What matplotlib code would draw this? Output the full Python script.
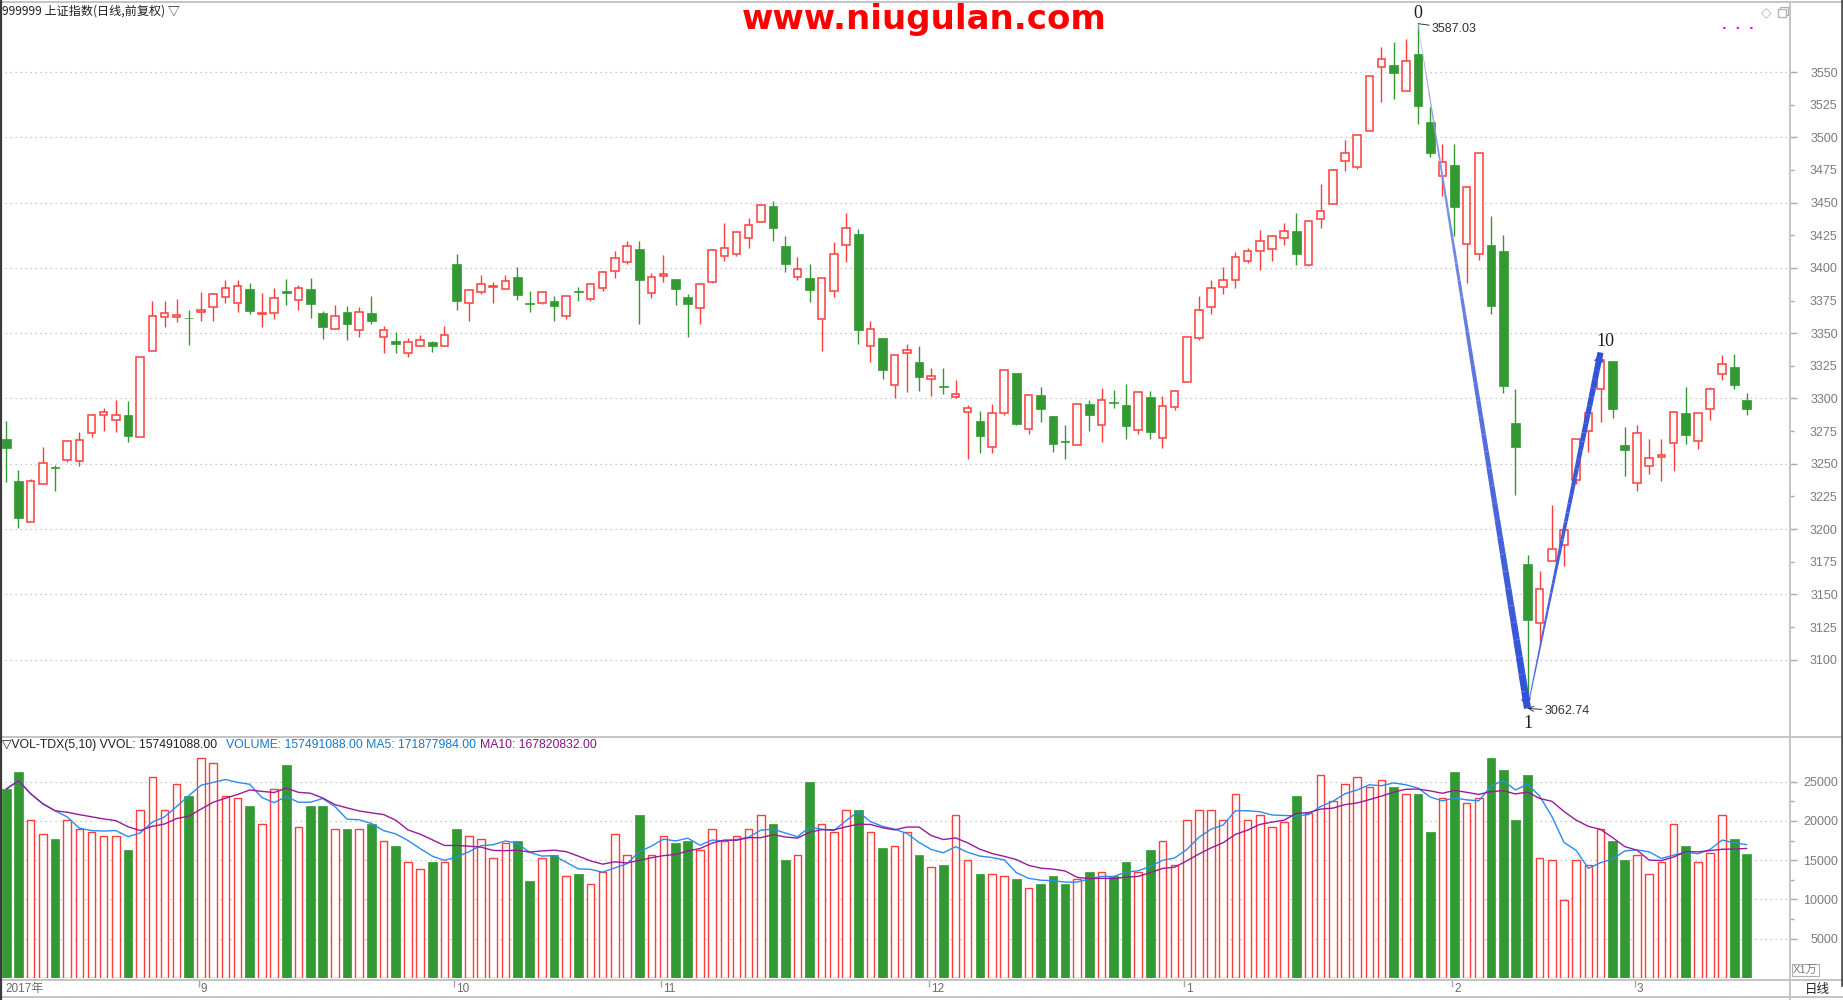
import matplotlib
matplotlib.use('Agg')
import matplotlib.pyplot as plt
import numpy as np
import pandas as pd
from matplotlib.collections import LineCollection
from matplotlib.lines import Line2D
from matplotlib.patches import Rectangle
from matplotlib.colors import to_rgb
from matplotlib.ticker import FixedLocator, FormatStrFormatter, NullFormatter

# daily candles (index 0 = first bar on the left)
opens = [3269.2, 3237.2, 3205.4, 3234.6, 3247.2, 3253.1, 3252.1, 3273.9, 3287.7, 3283.8,
         3287.7, 3270.8, 3336.2, 3362.3, 3362.3, 3361.8, 3366.2, 3370.0, 3377.7, 3373.1,
         3383.8, 3364.6, 3365.4, 3382.3, 3375.4, 3383.8, 3365.4, 3353.1, 3366.2, 3352.3,
         3365.4, 3346.9, 3343.9, 3335.1, 3340.0, 3343.1, 3340.0, 3403.3, 3373.1, 3381.5,
         3385.4, 3384.1, 3393.1, 3372.8, 3372.8, 3374.6, 3363.1, 3382.6, 3376.2, 3384.6,
         3397.7, 3404.6, 3414.1, 3380.5, 3393.8, 3391.8, 3378.0, 3369.2, 3389.2, 3409.2,
         3410.8, 3423.1, 3435.4, 3447.2, 3416.4, 3393.1, 3392.3, 3360.8, 3382.3, 3417.7,
         3425.6, 3340.0, 3346.4, 3310.0, 3334.6, 3327.7, 3314.6, 3309.5, 3300.8, 3290.0,
         3282.6, 3262.8, 3289.2, 3319.5, 3276.9, 3302.3, 3286.4, 3267.4, 3264.6, 3295.6,
         3280.0, 3297.2, 3294.9, 3276.2, 3301.0, 3270.0, 3293.6, 3312.3, 3346.2, 3370.0,
         3385.4, 3390.8, 3405.4, 3413.1, 3414.6, 3423.1, 3428.5, 3402.1, 3437.7, 3449.2,
         3481.5, 3476.9, 3504.6, 3553.8, 3555.4, 3535.4, 3564.1, 3511.5, 3470.0, 3478.5,
         3418.5, 3410.8, 3417.8, 3413.0, 3281.1, 3172.9, 3128.3, 3175.8, 3187.8, 3237.5,
         3275.4, 3307.1, 3328.6, 3264.4, 3235.3, 3248.2, 3255.5, 3266.3, 3288.7, 3267.8,
         3291.6, 3319.1, 3323.8, 3298.8]
highs = [3282.6, 3244.9, 3238.5, 3262.6, 3248.7, 3267.7, 3274.1, 3287.2, 3292.6, 3298.7,
         3298.0, 3331.5, 3374.9, 3374.9, 3376.4, 3367.9, 3381.8, 3381.0, 3391.0, 3391.0,
         3388.7, 3381.0, 3384.9, 3391.8, 3387.2, 3392.6, 3366.7, 3371.8, 3370.8, 3370.3,
         3378.7, 3355.6, 3351.0, 3346.4, 3348.7, 3344.4, 3355.6, 3410.3, 3383.1, 3394.9,
         3389.5, 3394.9, 3401.0, 3382.6, 3382.6, 3378.7, 3378.5, 3385.6, 3387.7, 3398.0,
         3413.3, 3420.3, 3420.3, 3396.4, 3409.5, 3391.8, 3380.3, 3388.7, 3414.6, 3434.1,
         3428.5, 3438.5, 3448.5, 3451.0, 3424.1, 3408.7, 3403.3, 3392.3, 3419.5, 3441.8,
         3429.5, 3359.5, 3346.4, 3333.1, 3341.8, 3340.3, 3323.3, 3323.3, 3314.1, 3294.9,
         3290.3, 3295.6, 3321.5, 3319.5, 3302.3, 3308.5, 3286.4, 3279.5, 3295.4, 3299.2,
         3308.0, 3306.4, 3311.0, 3304.9, 3305.9, 3301.8, 3306.2, 3347.2, 3378.7, 3391.0,
         3401.0, 3411.8, 3415.6, 3428.7, 3425.4, 3434.1, 3442.3, 3436.2, 3464.1, 3475.4,
         3497.9, 3502.3, 3546.9, 3569.5, 3572.6, 3574.9, 3587.03, 3523.1, 3494.9, 3494.9,
         3462.6, 3487.7, 3439.9, 3425.4, 3307.1, 3180.5, 3167.6, 3218.8, 3199.5, 3268.8,
         3288.7, 3335.2, 3328.6, 3278.3, 3279.5, 3269.1, 3269.1, 3289.3, 3308.6, 3288.7,
         3308.6, 3333.0, 3333.9, 3304.5]
lows = [3235.9, 3200.5, 3205.4, 3234.6, 3229.0, 3251.3, 3248.2, 3270.5, 3275.1, 3274.1,
        3266.7, 3270.8, 3336.2, 3355.1, 3358.2, 3341.3, 3359.0, 3359.7, 3373.1, 3365.9,
        3364.4, 3354.4, 3360.5, 3371.8, 3367.4, 3361.8, 3345.6, 3353.1, 3345.1, 3347.4,
        3357.4, 3335.1, 3335.1, 3332.1, 3340.0, 3335.9, 3340.0, 3367.4, 3359.0, 3380.0,
        3372.8, 3383.8, 3375.1, 3365.9, 3372.1, 3359.7, 3360.5, 3374.9, 3374.4, 3382.1,
        3392.1, 3402.8, 3357.4, 3376.7, 3389.0, 3371.8, 3347.4, 3356.7, 3388.2, 3405.1,
        3409.2, 3415.1, 3435.4, 3420.5, 3396.7, 3390.5, 3373.6, 3336.7, 3377.4, 3404.4,
        3342.1, 3328.2, 3315.1, 3300.5, 3305.1, 3305.9, 3302.1, 3303.6, 3300.0, 3253.6,
        3258.2, 3258.2, 3287.4, 3279.5, 3273.1, 3282.1, 3259.0, 3253.6, 3264.6, 3275.1,
        3266.7, 3292.8, 3269.0, 3272.8, 3269.0, 3262.1, 3291.3, 3312.3, 3344.6, 3364.4,
        3379.8, 3384.4, 3403.9, 3398.5, 3405.4, 3417.2, 3402.1, 3401.3, 3430.5, 3449.2,
        3474.4, 3475.9, 3504.6, 3527.4, 3529.0, 3535.4, 3510.5, 3485.1, 3455.4, 3424.4,
        3388.2, 3406.2, 3364.6, 3304.5, 3225.8, 3062.74, 3113.5, 3175.8, 3171.7, 3234.6,
        3258.7, 3282.1, 3285.2, 3240.3, 3228.9, 3242.5, 3237.2, 3244.1, 3265.3, 3261.5,
        3283.7, 3314.0, 3307.4, 3287.5]
closes = [3262.1, 3208.2, 3237.0, 3250.8, 3246.8, 3267.7, 3268.5, 3287.2, 3290.0, 3287.7,
          3271.3, 3331.5, 3363.1, 3365.4, 3363.8, 3361.3, 3367.7, 3380.0, 3384.6, 3386.2,
          3366.7, 3365.6, 3376.9, 3380.5, 3384.6, 3372.1, 3354.4, 3363.1, 3357.4, 3366.2,
          3359.2, 3352.3, 3341.5, 3343.1, 3344.6, 3340.0, 3348.5, 3374.4, 3383.1, 3387.7,
          3386.4, 3390.3, 3379.0, 3372.3, 3381.5, 3370.5, 3378.5, 3381.3, 3387.7, 3396.9,
          3407.7, 3416.9, 3390.5, 3393.1, 3395.4, 3383.6, 3372.1, 3387.7, 3413.8, 3415.4,
          3427.7, 3433.1, 3448.5, 3430.5, 3402.8, 3399.2, 3382.8, 3392.3, 3410.8, 3430.8,
          3352.1, 3353.1, 3322.1, 3333.1, 3336.9, 3316.7, 3316.9, 3309.0, 3303.1, 3293.1,
          3271.3, 3289.2, 3321.5, 3280.5, 3302.3, 3292.1, 3265.1, 3266.9, 3295.4, 3287.4,
          3299.2, 3296.7, 3278.7, 3304.9, 3274.4, 3294.6, 3305.6, 3347.2, 3367.7, 3384.6,
          3390.8, 3408.5, 3413.1, 3420.8, 3424.6, 3428.5, 3410.5, 3436.2, 3443.8, 3474.6,
          3487.7, 3501.5, 3546.9, 3560.0, 3549.2, 3558.5, 3523.6, 3488.2, 3480.8, 3446.7,
          3461.8, 3487.7, 3370.6, 3309.6, 3262.5, 3130.6, 3154.3, 3184.6, 3199.5, 3268.8,
          3288.7, 3329.8, 3292.2, 3260.2, 3273.2, 3254.2, 3256.8, 3289.3, 3272.3, 3288.7,
          3307.1, 3326.7, 3310.5, 3291.6]
# volume in units of 1万
vols = [24060, 26165, 20150, 18350, 17750, 20150, 18950, 18650, 18050, 18050,
        16240, 21350, 25560, 21350, 24660, 23160, 27970, 27370, 23160, 22860,
        21950, 19550, 24060, 27070, 19250, 21950, 21950, 18950, 18950, 18950,
        19550, 17440, 16840, 14740, 13830, 14740, 14740, 18950, 18050, 17740,
        15340, 17140, 17440, 12330, 15340, 15640, 12930, 13230, 12030, 13530,
        18350, 15640, 20750, 15640, 18050, 17140, 17440, 16240, 18950, 17440,
        18050, 18950, 20750, 19550, 15040, 15640, 24960, 19550, 18650, 21350,
        21350, 18650, 16540, 16840, 18650, 15640, 14140, 14440, 20750, 15040,
        13230, 13230, 12930, 12630, 11430, 12030, 12930, 12030, 12630, 13530,
        13530, 12930, 14740, 13530, 16240, 17440, 14440, 20150, 21350, 21350,
        20150, 23460, 20150, 20750, 19250, 19850, 23160, 21050, 25860, 22560,
        24660, 25560, 24360, 25260, 24360, 23460, 23460, 18650, 22860, 26170,
        22260, 22860, 27970, 26470, 20150, 25860, 15340, 15040, 9920, 15040,
        14440, 18950, 17440, 15040, 15640, 13230, 14740, 19550, 16840, 14740,
        15940, 20750, 17740, 15749.1088]

# header readouts of the volume panel
vvol_last = 157491088.00
ma5_last = 171877984.00
ma10_last = 167820832.00

month_labels = ['2017年', '9', '10', '11', '12', '1', '2', '3']
month_idx = [0, 16, 37, 54, 76, 97, 119, 134]

peak_i, low_i, top_i = 116, 125, 131

price_major = list(range(3100, 3551, 50))
price_minor = list(range(3125, 3526, 50))
vol_major = [5000, 10000, 15000, 20000, 25000]
vol_minor = [7500, 12500, 17500, 22500]

red = '#FF3C3C'
green = '#339933'
grid_c = '#b8b8b8'
frame_c = '#c4c4c4'

o = np.array(opens); h = np.array(highs); l = np.array(lows); c = np.array(closes)
v = np.array(vols, dtype=float)
x = np.arange(len(o))
up = c >= o
lo_b = np.minimum(o, c)
hi_b = np.maximum(o, c)
hgt = np.maximum(hi_b - lo_b, 0.4)

W, H = 1843, 1000
fig = plt.figure(figsize=(W / 100, H / 100), dpi=100)


def fx(px):
    return px / W


def fy(py):
    return 1 - py / H


ax = fig.add_axes([0, fy(737), fx(1790), fy(2) - fy(737)])
axv = fig.add_axes([0, fy(978), fx(1790), fy(740) - fy(978)])
axd = fig.add_axes([0, fy(997), fx(1790), fy(980) - fy(997)])

xlim = (-0.52, 146.57)
for a in (ax, axv, axd):
    a.set_xlim(*xlim)
    a.set_xticks([])
    for s in a.spines.values():
        s.set_visible(False)

# candles
ax.vlines(x[up], hi_b[up], h[up], color=red, lw=1.0, zorder=2)
ax.vlines(x[up], l[up], lo_b[up], color=red, lw=1.0, zorder=2)
ax.vlines(x[~up], l[~up], h[~up], color=green, lw=1.0, zorder=2)
ax.bar(x[up], hgt[up], bottom=lo_b[up], width=0.62, facecolor='white',
       edgecolor=red, lw=1.1, zorder=3)
ax.bar(x[~up], hgt[~up], bottom=lo_b[~up], width=0.72, facecolor=green,
       edgecolor=green, lw=0.5, zorder=3)
ax.set_ylim(3040.8, 3603.6)


def blend(c0, c1, t):
    a0 = np.array(to_rgb(c0)); a1 = np.array(to_rgb(c1))
    return tuple(a0 + (a1 - a0) * t)


def taper_arrow(axis, x0, y0, x1, y1, w0, w1, c0, c1, nseg=40, head=16):
    xs = np.linspace(x0, x1, nseg + 1)
    ys = np.linspace(y0, y1, nseg + 1)
    segs = [[(xs[k], ys[k]), (xs[k + 1], ys[k + 1])] for k in range(nseg)]
    lws = np.linspace(w0, w1, nseg)
    cols = [blend(c0, c1, t) for t in np.linspace(0, 1, nseg) ** 0.6]
    axis.add_collection(LineCollection(segs, linewidths=lws, colors=cols,
                                       capstyle='butt', zorder=5))
    axis.annotate('', xy=(x1, y1), xytext=(xs[-5], ys[-5]),
                  arrowprops=dict(arrowstyle='-|>', color=c1, lw=0,
                                  mutation_scale=head, shrinkA=0, shrinkB=0),
                  zorder=6)


taper_arrow(ax, peak_i, h[peak_i], low_i, l[low_i], 0.4, 5.2, '#b8c0f0', '#3152d6', head=18)
taper_arrow(ax, low_i, l[low_i], top_i, h[top_i], 0.7, 4.4, '#5b74e0', '#3152d6', head=17)

serif = 'Liberation Serif'
ax.annotate('0', xy=(peak_i, h[peak_i]), xytext=(0, 10), textcoords='offset pixels',
            ha='center', va='center', fontsize=13, family=serif, color='#202020')
ax.annotate('1', xy=(low_i, l[low_i]), xytext=(0, -15), textcoords='offset pixels',
            ha='center', va='center', fontsize=13, family=serif, color='#202020')
ax.annotate('10', xy=(top_i, h[top_i]), xytext=(5, 11), textcoords='offset pixels',
            ha='center', va='center', fontsize=13, family=serif, color='#202020')
ax.annotate('%.2f' % h[peak_i], xy=(peak_i, h[peak_i]), xytext=(14, -5),
            textcoords='offset pixels', ha='left', va='center', fontsize=9,
            family='Liberation Sans', color='#333333',
            arrowprops=dict(arrowstyle='-', lw=0.7, color='#333333',
                            shrinkA=0, shrinkB=0))
ax.annotate('%.2f' % l[low_i], xy=(low_i, l[low_i]), xytext=(17, -3),
            textcoords='offset pixels', ha='left', va='center', fontsize=9,
            family='Liberation Sans', color='#333333',
            arrowprops=dict(arrowstyle='->', lw=0.7, color='#333333',
                            shrinkA=0, shrinkB=0))

# volume
axv.bar(x[up], v[up], width=0.62, facecolor='white', edgecolor=red, lw=1.0, zorder=3)
axv.bar(x[~up], v[~up], width=0.72, facecolor=green, edgecolor=green, lw=0.5, zorder=3)
ma5 = pd.Series(v).rolling(5, min_periods=1).mean()
ma10 = pd.Series(v).rolling(10, min_periods=1).mean()
axv.plot(x, ma5, color='#2a8cf0', lw=1.0, zorder=4)
axv.plot(x, ma10, color='#9a1a9a', lw=1.0, zorder=4)
axv.set_ylim(0, 30300)


def right_axis(a, major, minor, minor_labels):
    a.yaxis.tick_right()
    a.yaxis.set_major_locator(FixedLocator(major))
    a.yaxis.set_minor_locator(FixedLocator(minor))
    a.yaxis.set_major_formatter(FormatStrFormatter('%d'))
    if minor_labels:
        a.yaxis.set_minor_formatter(FormatStrFormatter('%d'))
    else:
        a.yaxis.set_minor_formatter(NullFormatter())
    a.tick_params(axis='y', which='major', length=5, width=1, color='#a8a8a8',
                  labelcolor='#7c7c7c', labelsize=9, pad=29.5)
    a.tick_params(axis='y', which='minor', length=3, width=1, color='#a8a8a8',
                  labelcolor='#7c7c7c', labelsize=9, pad=30.9)
    for t in a.get_yticklabels(which='both'):
        t.set_horizontalalignment('right')
        t.set_family('Liberation Sans')
    a.grid(axis='y', which='major', color=grid_c, lw=0.9, ls=(0, (1, 3)))
    a.set_axisbelow(True)


right_axis(ax, price_major, price_minor, True)
right_axis(axv, vol_major, vol_minor, False)

# date strip
axd.set_ylim(0, 1)
axd.set_yticks([])
axd.patch.set_alpha(0)
for lbl, idx in zip(month_labels, month_idx):
    if idx > 0:
        axd.vlines(idx - 0.2, 0.6, 1.0, color='#a8a8a8', lw=1)
    axd.annotate(lbl, xy=(idx - 0.2, 0.45), xytext=(2, 0), textcoords='offset pixels',
                 ha='left', va='center', fontsize=8.5, color='#6a6a6a',
                 family=['Liberation Sans', 'Noto Sans CJK SC'])


# frame lines
def hline(py, x0=0, x1=W, color=frame_c, lw=1.4):
    fig.add_artist(Line2D([fx(x0), fx(x1)], [fy(py), fy(py)], color=color, lw=lw))


def vline(px, y0=0, y1=H, color=frame_c, lw=1.4):
    fig.add_artist(Line2D([fx(px), fx(px)], [fy(y0), fy(y1)], color=color, lw=lw))


hline(2)
hline(737)
hline(980)
hline(997)
vline(1790, 2, 1000)
vline(0.8, 0, 1000, color='#3a3a3a', lw=1.6)
vline(1841.8, 0, 985, color='#5a5a5a', lw=2)

# texts
fig.text(fx(2), fy(11), '999999 上证指数(日线,前复权) ▽', fontsize=8.7, color='#202020',
         ha='left', va='center', family=['Noto Sans CJK SC', 'DejaVu Sans'])
fig.text(fx(924), fy(19), 'www.niugulan.com', fontsize=24.5, fontweight='bold',
         color='#FF0000', ha='center', va='center', family='DejaVu Sans')
fig.text(fx(1766), fy(12), '◇', fontsize=10, color='#b0b0b0', ha='center', va='center',
         family='DejaVu Sans')
# window "restore" icon (two overlapping squares), no font has this sign
for dx, dy in ((2, -2), (0, 0)):
    fig.add_artist(Rectangle((fx(1778 + dx), fy(17 + dy)), 8 / W, 8 / H, facecolor='white',
                             edgecolor='#b0b0b0', lw=0.9))
fig.text(fx(1738), fy(28), '·  ·  ·', fontsize=9, color='#ff00ff', ha='center',
         va='center', fontweight='bold', family='DejaVu Sans')

hdr_font = ['Liberation Sans', 'DejaVu Sans']
fig.text(fx(2), fy(745), '▽VOL-TDX(5,10) VVOL: %.2f' % vvol_last, fontsize=8.8,
         color='#202020', ha='left', va='center', family=hdr_font)
fig.text(fx(226), fy(745), 'VOLUME: %.2f MA5: %.2f' % (vvol_last, ma5_last),
         fontsize=8.8, color='#1478d2', ha='left', va='center', family=hdr_font)
fig.text(fx(480), fy(745), 'MA10: %.2f' % ma10_last, fontsize=8.8, color='#8b108b',
         ha='left', va='center', family=hdr_font)

fig.text(fx(1793), fy(970), 'X1万', fontsize=8, color='#7c7c7c', ha='left', va='center',
         family=['Liberation Sans', 'Noto Sans CJK SC'],
         bbox=dict(facecolor='white', edgecolor='#b0b0b0', pad=1, lw=0.8))
fig.text(fx(1817), fy(989), '日线', fontsize=9, color='#202020', ha='center',
         va='center', family=['Noto Sans CJK SC'])

fig.savefig('out.png', dpi=100, facecolor='white')
